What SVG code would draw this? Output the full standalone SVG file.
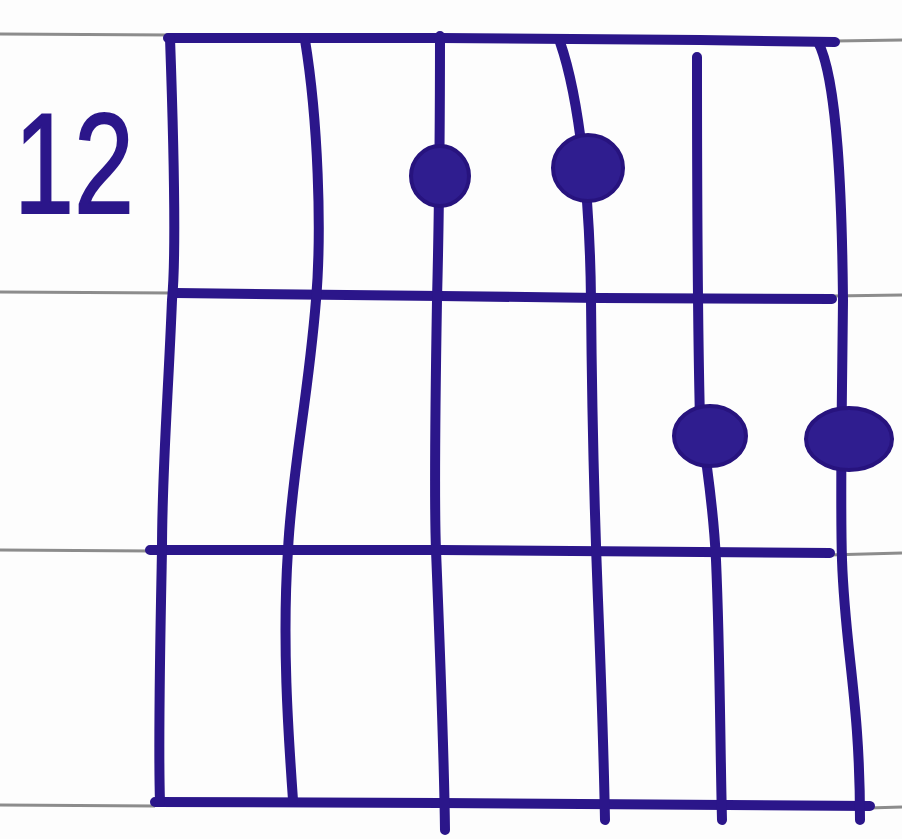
<svg xmlns="http://www.w3.org/2000/svg" width="902" height="839" viewBox="0 0 902 839">
<style>
.paper{stroke:#8c8c8c;stroke-width:3;fill:none}
.ink{stroke:#2b168a;stroke-width:10;fill:none;stroke-linecap:round;stroke-linejoin:round}
.dot{fill:#2f1d8f;stroke:#27137e;stroke-width:4}
.lbl{font-family:"Liberation Sans",Arial,sans-serif;font-weight:normal;fill:#2b168a;stroke:#2b168a;stroke-width:2}
</style>
<rect width="902" height="839" fill="#fdfdfd"/>
<g id="paper-lines">
<path class="paper" d="M0 34 L170 35"/>
<path class="paper" d="M835 41 L902 40"/>
<path class="paper" d="M0 292 L172 293"/>
<path class="paper" d="M832 296 L902 295"/>
<path class="paper" d="M0 550 L152 551"/>
<path class="paper" d="M828 555 L902 553"/>
<path class="paper" d="M0 805 L155 806"/>
<path class="paper" d="M868 808 L902 807"/>
</g>
<g id="label">
<text class="lbl" x="14" y="213" font-size="142" textLength="120" lengthAdjust="spacingAndGlyphs">12</text>
</g>
<g id="frets">
<path class="ink" d="M168 38 L440 38 L700 40 L835 42"/>
<path class="ink" d="M176 293 L440 296 L600 298 L832 299"/>
<path class="ink" d="M150 550 L440 550 L830 553"/>
<path class="ink" d="M155 802 L440 803 L870 806"/>
</g>
<g id="strings">
<path class="ink" d="M170 38 C174 150 176 260 172 300 C168 400 162 470 162 550 C160 650 158 740 160 802"/>
<path class="ink" d="M305 40 C318 120 322 230 316 300 C308 400 292 470 288 550 C282 640 288 730 293 800"/>
<path class="ink" d="M440 36 C440 150 438 260 437 300 C435 420 434 500 436 550 C440 650 444 750 445 830"/>
<path class="ink" d="M560 42 C580 100 590 200 591 300 C592 420 596 550 598 600 C602 700 604 770 605 820"/>
<path class="ink" d="M697 57 C697 150 697 300 700 420 C708 470 714 520 716 560 C720 650 720 740 722 820"/>
<path class="ink" d="M818 42 C838 80 842 200 843 300 C842 400 840 500 842 560 C845 650 860 700 860 820"/>
</g>
<g id="dots">
<ellipse class="dot" cx="440" cy="176" rx="29" ry="30"/>
<ellipse class="dot" cx="588" cy="168" rx="35" ry="33"/>
<ellipse class="dot" cx="710" cy="436" rx="36" ry="30"/>
<ellipse class="dot" cx="849" cy="439" rx="43" ry="31"/>
</g>
</svg>
